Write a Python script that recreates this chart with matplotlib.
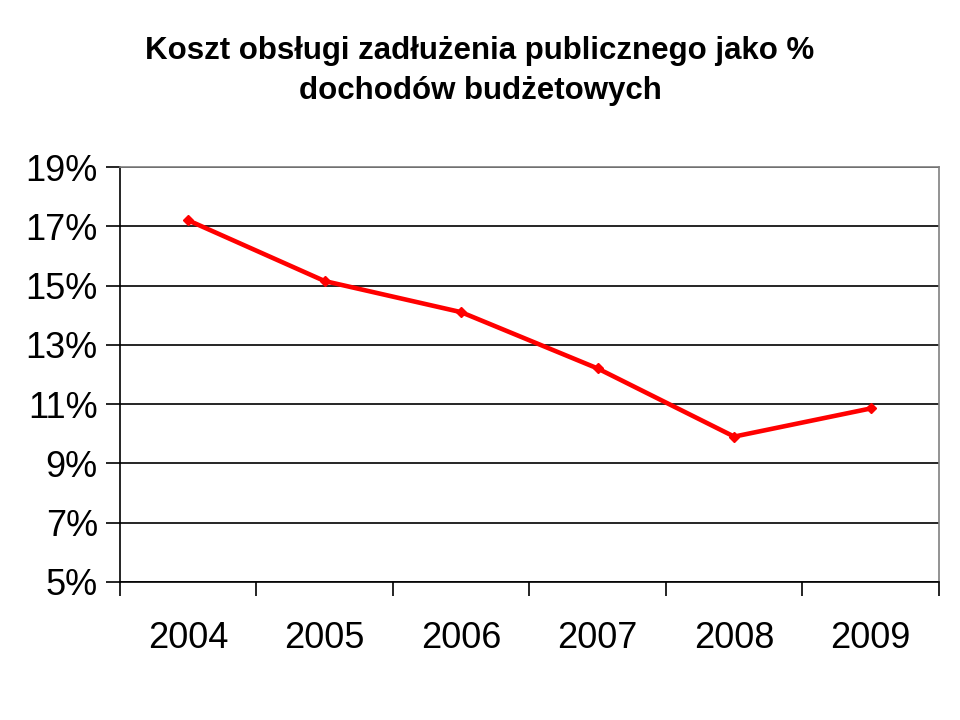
import matplotlib
matplotlib.use("Agg")
import matplotlib.pyplot as plt
from matplotlib.ticker import FixedLocator, NullLocator

plt.rcParams['font.family'] = ['Liberation Sans', 'DejaVu Sans']

years = ['2004', '2005', '2006', '2007', '2008', '2009']
values = [17.2, 15.15, 14.1, 12.2, 9.9, 10.85]
yticks = [5, 7, 9, 11, 13, 15, 17, 19]
title = 'Koszt obsługi zadłużenia publicznego jako %\ndochodów budżetowych'

fig = plt.figure(figsize=(9.6, 7.2), dpi=100)
ax = fig.add_axes([0.125, 0.192, 0.853, 0.576])

x = [i + 0.5 for i in range(len(years))]
ax.plot(x, values, color='#ff0000', linewidth=3.3, marker='D', markersize=5,
        markeredgecolor='#ff0000', markerfacecolor='#ff0000', zorder=3)

ax.set_xlim(0, len(years))
ax.set_ylim(5, 19)
ax.set_yticks(yticks)
ax.set_yticklabels([f'{t}%' for t in yticks], fontsize=26)
ax.xaxis.set_major_locator(FixedLocator(list(range(len(years) + 1))))
ax.set_xticklabels([''] * (len(years) + 1))
ax.xaxis.set_minor_locator(FixedLocator(x))
ax.set_xticklabels(years, minor=True, fontsize=26)
ax.tick_params(axis='x', which='minor', length=0, pad=28)
ax.tick_params(axis='x', which='major', length=10, width=1.2, direction='out')
ax.tick_params(axis='y', length=10, width=1.2, direction='out', pad=6)

ax.grid(axis='y', color='black', linewidth=1.2)
ax.set_axisbelow(True)
for s in ['left', 'bottom']:
    ax.spines[s].set_color('black')
    ax.spines[s].set_linewidth(1.2)
for s in ['top', 'right']:
    ax.spines[s].set_color('#808080')
    ax.spines[s].set_linewidth(1.2)

fig.text(0.5, 0.901, title, ha='center', va='center', fontsize=22.5,
         fontweight='bold', linespacing=1.45)

fig.savefig('out.png', dpi=100, facecolor='white')
